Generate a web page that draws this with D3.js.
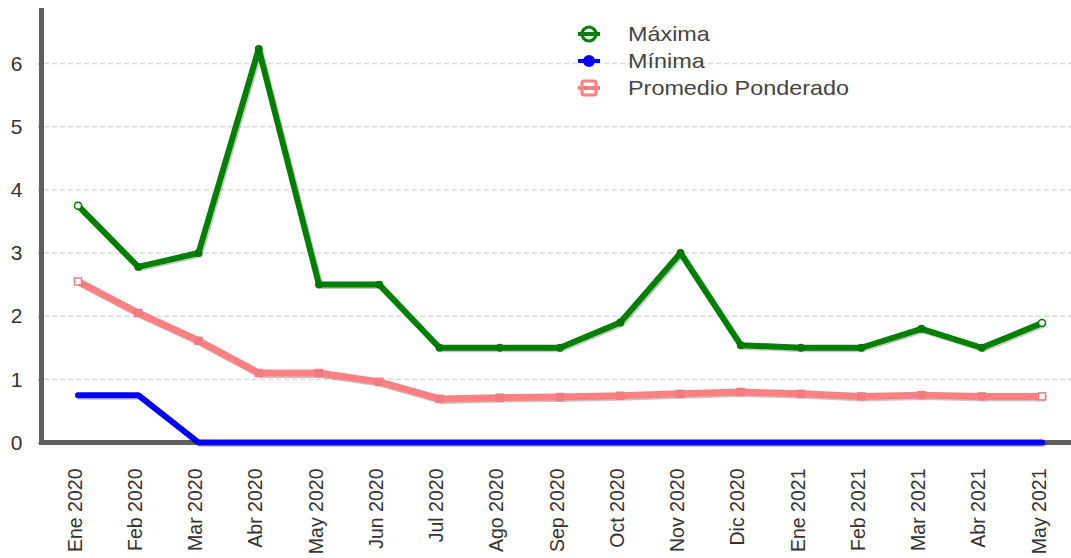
<!DOCTYPE html>
<html>
<head>
<meta charset="utf-8">
<script src="https://cdn.jsdelivr.net/npm/d3@7"></script>
<style>
  html, body { margin: 0; padding: 0; background: #fff; }
  svg { display: block; font-family: "Liberation Sans", Arial, sans-serif; }
</style>
</head>
<body>
<svg id="chart" width="1071" height="558"></svg>
<script>
// Monthly categories
const months = ["Ene 2020", "Feb 2020", "Mar 2020", "Abr 2020", "May 2020", "Jun 2020",
  "Jul 2020", "Ago 2020", "Sep 2020", "Oct 2020", "Nov 2020", "Dic 2020",
  "Ene 2021", "Feb 2021", "Mar 2021", "Abr 2021", "May 2021"];

// Series values
const maxima = [3.75, 2.78, 3.0, 6.23, 2.5, 2.5, 1.5, 1.5, 1.5, 1.9, 3.0, 1.54, 1.5, 1.5, 1.8, 1.5, 1.89];
const minima = [0.75, 0.75, 0, 0, 0, 0, 0, 0, 0, 0, 0, 0, 0, 0, 0, 0, 0];
const promedio = [2.55, 2.05, 1.61, 1.1, 1.1, 0.96, 0.69, 0.71, 0.72, 0.74, 0.77, 0.8, 0.77, 0.73, 0.75, 0.73, 0.73];

// Y axis ticks
const yTicks = [0, 1, 2, 3, 4, 5, 6];

const seriesNames = ["Máxima", "Mínima", "Promedio Ponderado"];

const svg = d3.select("#chart");
const W = 1071;

const x = d3.scalePoint().domain(months).range([78, 1042]);
const y = d3.scaleLinear().domain([0, 6]).range([442.5, 63.5]);

// Horizontal dashed gridlines
svg.append("g").selectAll("line")
  .data(yTicks.filter(d => d > 0))
  .join("line")
  .attr("x1", 44).attr("x2", W)
  .attr("y1", d => y(d)).attr("y2", d => y(d))
  .attr("stroke", "#d9d9d9")
  .attr("stroke-width", 1.5)
  .attr("stroke-dasharray", "5,3");

// Y axis
const yAxis = d3.axisLeft(y).tickValues(yTicks).tickSize(3).tickPadding(16).tickFormat(d3.format("d"));
const gy = svg.append("g").attr("transform", "translate(41.5,0)").call(yAxis);
gy.select(".domain").remove();
gy.selectAll(".tick line").attr("stroke", "#777").attr("stroke-width", 2);
gy.selectAll(".tick text")
  .attr("fill", "#333")
  .attr("font-size", 21)
  .attr("font-family", "Liberation Sans, Arial, sans-serif");
svg.append("line")
  .attr("x1", 41.5).attr("x2", 41.5).attr("y1", 8).attr("y2", 445)
  .attr("stroke", "#5f605e").attr("stroke-width", 5);

// X axis
const xAxis = d3.axisBottom(x).tickSize(0).tickPadding(0);
const gx = svg.append("g").attr("transform", "translate(0,442.5)").call(xAxis);
gx.select(".domain").remove();
gx.selectAll(".tick text")
  .attr("fill", "#333")
  .attr("font-size", 19.5)
  .attr("font-family", "Liberation Sans, Arial, sans-serif")
  .attr("text-anchor", "end")
  .attr("dy", null)
  .attr("y", null)
  .attr("transform", "translate(3,26) rotate(-90)");
svg.append("line")
  .attr("x1", 39).attr("x2", W).attr("y1", 442.5).attr("y2", 442.5)
  .attr("stroke", "#5f605e").attr("stroke-width", 5);

const line = d3.line().x((d, i) => x(months[i])).y(d => y(d));

function drawSeries(values, color, width, markerColor, shape) {
  const g = svg.append("g");
  // soft drop shadow
  g.append("path").datum(values)
    .attr("d", line)
    .attr("fill", "none")
    .attr("stroke", "#000")
    .attr("stroke-opacity", 0.22)
    .attr("stroke-width", width)
    .attr("stroke-linejoin", "round")
    .attr("stroke-linecap", "round")
    .attr("transform", "translate(1.5,1.5)");
  g.append("path").datum(values)
    .attr("d", line)
    .attr("fill", "none")
    .attr("stroke", color)
    .attr("stroke-width", width)
    .attr("stroke-linejoin", "round")
    .attr("stroke-linecap", "round");
  const last = values.length - 1;
  if (shape === "circle") {
    g.selectAll("circle").data(values).join("circle")
      .attr("cx", (d, i) => x(months[i]))
      .attr("cy", d => y(d))
      .attr("r", (d, i) => (i === 0 || i === last) ? 3.5 : 3.2)
      .attr("fill", (d, i) => (i === 0 || i === last) ? "#fff" : markerColor)
      .attr("stroke", markerColor)
      .attr("stroke-width", 1.5);
  } else if (shape === "rect") {
    g.selectAll("rect").data(values).join("rect")
      .attr("x", (d, i) => x(months[i]) - 3.5)
      .attr("y", d => y(d) - 3.5)
      .attr("width", 7).attr("height", 7)
      .attr("fill", (d, i) => (i === 0 || i === last) ? "#fff" : markerColor)
      .attr("stroke", markerColor)
      .attr("stroke-width", 1.5);
  }
}

drawSeries(promedio, "#ff8080", 7, "#f27c7c", "rect");
drawSeries(minima, "#0000ff", 6, "#0000ff", "none");
drawSeries(maxima, "#008000", 6, "#007800", "circle");

// Legend
const legend = svg.append("g").attr("transform", "translate(589,0)");
const rowsY = [34, 61, 88];
const lg = legend.selectAll("g").data(seriesNames).join("g")
  .attr("transform", (d, i) => `translate(0,${rowsY[i]})`);
// Máxima icon
const l0 = legend.append("g").attr("transform", `translate(0,${rowsY[0]})`);
l0.append("line").attr("x1", -11).attr("x2", 11).attr("stroke", "#008000").attr("stroke-width", 4);
l0.append("circle").attr("r", 7).attr("fill", "none").attr("stroke", "#008000").attr("stroke-width", 3.2);
// Mínima icon
const l1 = legend.append("g").attr("transform", `translate(0,${rowsY[1]})`);
l1.append("line").attr("x1", -11).attr("x2", 11).attr("stroke", "#0000ff").attr("stroke-width", 4);
l1.append("circle").attr("r", 6).attr("fill", "#0000ff");
// Promedio icon
const l2 = legend.append("g").attr("transform", `translate(0,${rowsY[2]})`);
l2.append("line").attr("x1", -11).attr("x2", 11).attr("stroke", "#ff8080").attr("stroke-width", 4);
l2.append("rect").attr("x", -7).attr("y", -7).attr("width", 14).attr("height", 14).attr("rx", 2)
  .attr("fill", "none").attr("stroke", "#ff8080").attr("stroke-width", 3.2);
lg.append("text")
  .attr("x", 0)
  .attr("dy", "0.35em")
  .attr("fill", "#444")
  .attr("font-size", 20)
  .attr("font-family", "Liberation Sans, Arial, sans-serif")
  .attr("transform", "translate(39,0) scale(1.17,1)")
  .text(d => d);
</script>
</body>
</html>
